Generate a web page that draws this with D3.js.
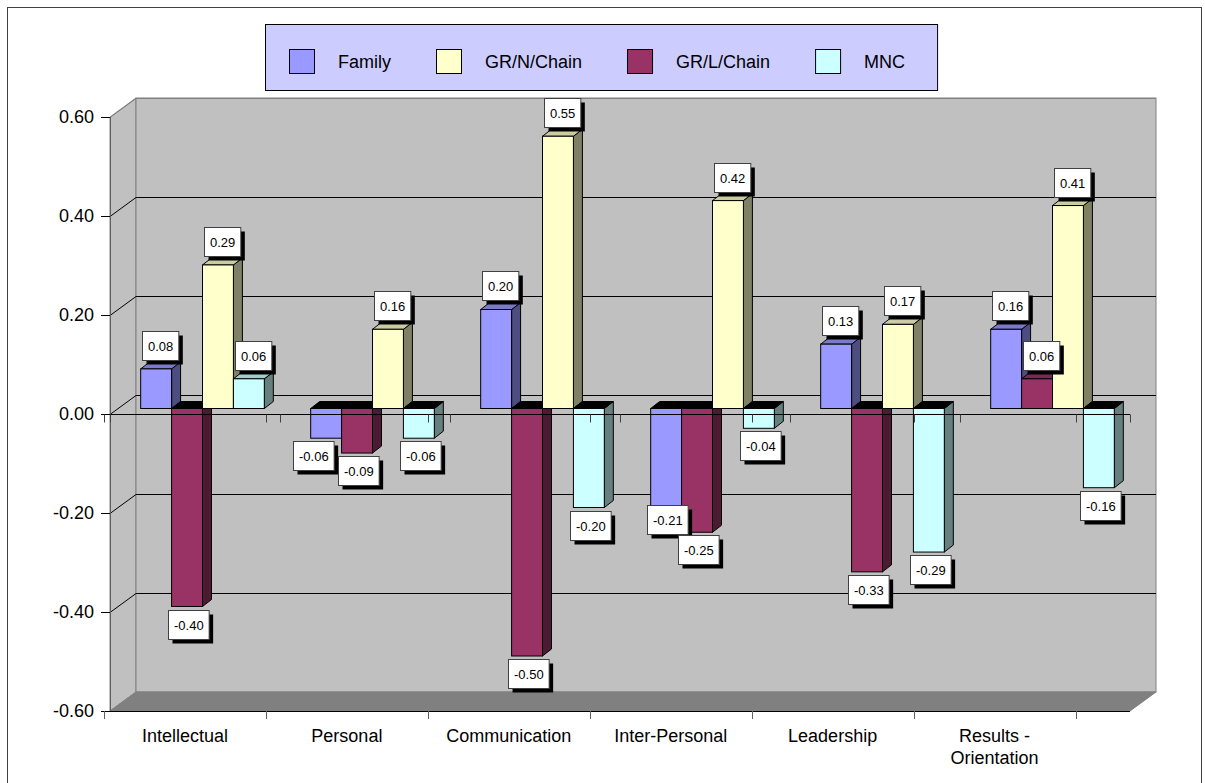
<!DOCTYPE html>
<html>
<head>
<meta charset="utf-8">
<script src="https://cdn.jsdelivr.net/npm/d3@7"></script>
<style>
  html, body { margin: 0; padding: 0; background: #fff; }
  svg { display: block; }
  text { font-family: 'Liberation Sans', Arial, sans-serif; fill: #000; }
</style>
</head>
<body>
<script>
// ---------------- data ----------------
const categories = ["Intellectual", "Personal", "Communication", "Inter-Personal", "Leadership", "Results - Orientation"];
const family   = [0.08, -0.06, 0.20, -0.21, 0.13, 0.16];
const grnChain = [0.29, 0.16, 0.55, 0.42, 0.17, 0.41];
const grlChain = [-0.40, -0.09, -0.50, -0.25, -0.33, 0.06];
const mnc      = [0.06, -0.06, -0.20, -0.04, -0.29, -0.16];
const yTicks   = [-0.6, -0.4, -0.2, 0, 0.2, 0.4, 0.6];
const legendNames = ["Family", "GR/N/Chain", "GR/L/Chain", "MNC"];
const plotOrder   = ["Family", "GR/L/Chain", "GR/N/Chain", "MNC"];

// ---------------- styles ----------------
const seriesValues = { "Family": family, "GR/N/Chain": grnChain, "GR/L/Chain": grlChain, "MNC": mnc };
const colors = {
  "Family":     { front: "#9999ff", top: "#7a7acc", side: "#4d4d80" },
  "GR/N/Chain": { front: "#ffffcc", top: "#cccca3", side: "#808066" },
  "GR/L/Chain": { front: "#993366", top: "#7a2952", side: "#4d1a33" },
  "MNC":        { front: "#ccffff", top: "#a3cccc", side: "#668080" }
};
const fmt = d3.formatLocale({ decimal: ".", thousands: ",", grouping: [3], currency: ["", ""], minus: "-" }).format(".2f");

const W = 1205, H = 783;
const svg = d3.select("body").append("svg").attr("width", W).attr("height", H);

// outer frame
svg.append("rect").attr("x", 7.5).attr("y", 7.5).attr("width", 1194).attr("height", 800)
  .attr("fill", "#fff").attr("stroke", "#404040").attr("stroke-width", 1);

// ---------------- scales ----------------
const y = d3.scaleLinear().domain([-0.6, 0.6]).range([711, 117]);
const wall = { dx: 26, dy: -19 };     // back wall depth
const plane = { dx: 7.5, dy: -5.5 };  // bar plane offset from front
const depth = { dx: 9, dy: -7 };      // bar depth
const x0 = d3.scaleBand().domain(categories).range([110, 1130]);
const x1 = d3.scaleBand().domain(plotOrder).range([0, x0.bandwidth()]).paddingInner(0).paddingOuter(0.75);
const xl = d3.scaleBand().domain(categories).range([104, 1075.5]);

const xL = x0.range()[0], xR = x0.range()[1];
const yTop = y(0.6), yBot = y(-0.6);
const line = d3.line();

// ---------------- walls ----------------
svg.append("path")
  .attr("d", line([[xL, yTop], [xL + wall.dx, yTop + wall.dy], [xL + wall.dx, yBot + wall.dy], [xL, yBot]]) + "Z")
  .attr("fill", "#c0c0c0").attr("stroke", "#808080");
svg.append("rect")
  .attr("x", xL + wall.dx).attr("y", yTop + wall.dy)
  .attr("width", xR - xL).attr("height", yBot - yTop)
  .attr("fill", "#c0c0c0").attr("stroke", "#808080");
svg.append("path")
  .attr("d", line([[xL, yBot], [xL + wall.dx, yBot + wall.dy], [xR + wall.dx, yBot + wall.dy], [xR, yBot]]) + "Z")
  .attr("fill", "#808080").attr("stroke", "#808080");

// gridlines
yTicks.forEach(t => {
  const yy = Math.round(y(t)) + 0.5;
  const yb = Math.round(y(t) + wall.dy) + 0.5;
  if (t > -0.6) {
    svg.append("line").attr("x1", xL).attr("y1", yy).attr("x2", xL + wall.dx).attr("y2", yb)
      .attr("stroke", t === 0.6 ? "#808080" : "#000");
    svg.append("line").attr("x1", xL + wall.dx).attr("y1", yb).attr("x2", xR + wall.dx).attr("y2", yb)
      .attr("stroke", t === 0.6 ? "#808080" : "#000");
  }
  svg.append("line").attr("x1", xL - 9).attr("y1", yy).attr("x2", xL).attr("y2", yy).attr("stroke", "#000");
  svg.append("text").attr("x", xL - 16).attr("y", y(t)).attr("dy", "0.36em")
    .attr("text-anchor", "end").style("font-size", "18px")
    .text(fmt(t));
});
svg.append("line").attr("x1", xL + 0.5).attr("y1", yTop).attr("x2", xL + 0.5).attr("y2", yBot).attr("stroke", "#606060");

// floor front edge (category axis)
svg.append("line").attr("x1", xL).attr("y1", Math.round(yBot) + 0.5).attr("x2", xR).attr("y2", Math.round(yBot) + 0.5)
  .attr("stroke", "#000");
const tickXs = categories.map(c => xl(c)).concat([xl.range()[1]]);
tickXs.forEach(tx => {
  svg.append("line").attr("x1", Math.round(tx) + 0.5).attr("y1", yBot).attr("x2", Math.round(tx) + 0.5).attr("y2", yBot + 8)
    .attr("stroke", "#606060");
});

// category labels
categories.forEach(c => {
  const parts = c.includes(" - ") ? [c.split(" - ")[0] + " -", c.split(" - ")[1]] : [c];
  const t = svg.append("text").attr("text-anchor", "middle").style("font-size", "18px")
    .attr("x", xl(c) + xl.bandwidth() / 2).attr("y", yBot + 31);
  parts.forEach((p, k) => {
    t.append("tspan").attr("x", xl(c) + xl.bandwidth() / 2).attr("dy", k === 0 ? 0 : 22).text(p);
  });
});

// ---------------- bars ----------------
const barsG = svg.append("g");
const labelData = [];
categories.forEach((c, i) => {
  plotOrder.forEach(key => {
    const v = seriesValues[key][i];
    const col = colors[key];
    const bx = x0(c) + plane.dx + x1(key);
    const w = x1.bandwidth();
    const yt = y(Math.max(v, 0)) + plane.dy;
    const yb = y(Math.min(v, 0)) + plane.dy;
    barsG.append("path")
      .attr("d", line([[bx + w, yt], [bx + w + depth.dx, yt + depth.dy], [bx + w + depth.dx, yb + depth.dy], [bx + w, yb]]) + "Z")
      .attr("fill", col.side).attr("stroke", "#000").attr("stroke-width", 1).attr("stroke-linejoin", "round");
    barsG.append("path")
      .attr("d", line([[bx, yt], [bx + depth.dx, yt + depth.dy], [bx + w + depth.dx, yt + depth.dy], [bx + w, yt]]) + "Z")
      .attr("fill", v >= 0 ? col.top : "#000").attr("stroke", "#000").attr("stroke-width", 1).attr("stroke-linejoin", "round");
    barsG.append("rect")
      .attr("x", bx).attr("y", yt).attr("width", w).attr("height", Math.max(yb - yt, 0.5))
      .attr("fill", col.front).attr("stroke", "#000").attr("stroke-width", 1);
    labelData.push({ v, cat: i, cx: bx + w / 2, yt, yb });
  });
});

// zero axis line over bars
const y0 = Math.round(y(0)) + 0.5;
svg.append("line").attr("x1", xL).attr("y1", y0).attr("x2", xR).attr("y2", y0).attr("stroke", "#000");
const zeroTicks = tickXs.concat(categories.map(c => x0(c))).concat([xR]);
zeroTicks.forEach(tx => {
  svg.append("line").attr("x1", Math.round(tx) + 0.5).attr("y1", y0).attr("x2", Math.round(tx) + 0.5).attr("y2", y0 + 8)
    .attr("stroke", "#404040");
});

// ---------------- data labels ----------------
const lblG = svg.append("g");
const measure = lblG.append("text").style("font-size", "13px");
const bh = 29;
labelData.forEach(d => {
  measure.text(fmt(d.v));
  d.bw = measure.node().getComputedTextLength() + 11;
  d.bx = (d.v >= 0 ? d.cx + 4 : d.cx + 1.5) - d.bw / 2;
  d.by = d.v >= 0 ? d.yt - 9 - bh : d.yb + 3;
});
measure.remove();
// simple collision handling within a category (right to left)
for (let k = labelData.length - 2; k >= 0; k--) {
  const a = labelData[k], b = labelData[k + 1];
  if (a.cat !== b.cat) continue;
  const hOver = a.bx + a.bw + 4 - b.bx;
  const vOver = Math.min(a.by + bh, b.by + bh) - Math.max(a.by, b.by);
  if (hOver > 0 && vOver > 0) {
    if (vOver <= 12 && a.by < b.by) a.by = b.by - bh - 1;
    else a.bx = b.bx - 5 - a.bw;
  }
}
labelData.forEach(d => {
  const g = lblG.append("g");
  const bxl = Math.round(d.bx) + 0.5, btp = Math.round(d.by) + 0.5;
  g.append("rect").attr("x", bxl + 4).attr("y", btp + 4).attr("width", d.bw).attr("height", bh).attr("fill", "#000");
  g.append("rect").attr("x", bxl).attr("y", btp).attr("width", d.bw).attr("height", bh)
    .attr("fill", "#fff").attr("stroke", "#404040");
  g.append("text").style("font-size", "13px").attr("text-anchor", "middle")
    .attr("x", bxl + d.bw / 2).attr("y", btp + 19).text(fmt(d.v));
});

// ---------------- legend ----------------
const legG = svg.append("g");
const legBox = legG.append("rect").attr("fill", "#ccccff").attr("stroke", "#000");
let lx = 289;
const legStart = lx;
let legEnd = lx;
legendNames.forEach(name => {
  legG.append("rect").attr("x", lx + 0.5).attr("y", 49.5).attr("width", 25).attr("height", 24)
    .attr("fill", colors[name].front).attr("stroke", "#000");
  const t = legG.append("text").attr("x", lx + 49).attr("y", 67.5).style("font-size", "18px").text(name);
  const tw = t.node().getComputedTextLength();
  legEnd = lx + 49 + tw;
  lx = legEnd + 45;
});
legBox.attr("x", legStart - 24 + 0.5).attr("y", 24.5).attr("width", legEnd + 32 - (legStart - 24)).attr("height", 66);
</script>
</body>
</html>
